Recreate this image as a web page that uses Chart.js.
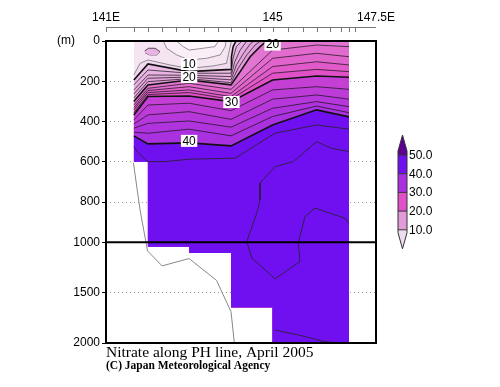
<!DOCTYPE html>
<html lang="en">
<head>
<meta charset="UTF-8" />
<title>Nitrate along PH line, April 2005</title>
<script src="https://cdn.jsdelivr.net/npm/chart.js"></script>
<style>
  html, body { margin: 0; padding: 0; background: #fff; }
  #wrap { width: 500px; height: 387px; }
</style>
</head>
<body>
<div id="wrap"><canvas id="section" width="500" height="387"></canvas></div>
<script>
// distance along the section in km (0 = 141E), depth in m
const lonLabelKm = [0, 401, 650];
const lonLabels = ["141E", "145", "147.5E"];
const lonTickKm = [0, 67, 100, 134, 168, 200, 235, 269, 301, 336, 371, 401, 438, 474, 507, 539, 565, 585, 600];
const depthTicks = [0, 200, 400, 600, 800, 1000, 1500, 2000];

// colour bar
const barLevels = [10, 20, 30, 40, 50];
const barColors = ["#f0dcf0", "#e39ad9", "#e050c8", "#a830e0", "#7010f0", "#600090"];

// lower limit of the observations (corners of the steps) and the sea floor
const dataBottom = [[67, 600], [101, 600], [101, 1045], [200, 1045], [200, 1105], [301, 1105],
  [301, 1645], [401, 1645], [401, 2000], [585, 2000]];
const seaFloor = [[66, 605], [82, 839], [100, 1085], [135, 1234], [200, 1161], [266, 1378], [301, 1689], [309, 2000]];
const surface = [[67, 0], [585, 0]];
const breakLine = [[0, 1000], [650, 1000]];

// nitrate isolines [km, depth]
const iso4 = [[67, 0], [170, 0], [186, 28], [200, 45], [234, 36], [262, 28], [271, 0], [585, 0]];
const iso6 = [[67, 0], [138, 0], [146, 36], [170, 69], [200, 94], [242, 86], [275, 69], [287, 28], [289, 0], [585, 0]];
const iso8 = [[67, 169], [82, 111], [101, 94], [154, 119], [200, 136], [258, 124], [290, 111], [297, 45], [302, 0], [585, 0]];
const iso10 = [[67, 194], [101, 114], [200, 152], [301, 141], [302, 78], [306, 28], [313, 0], [585, 0]];
const iso12 = [[67, 218], [101, 144], [200, 160], [301, 160], [306, 86], [314, 28], [327, 0], [585, 0]];
const iso14 = [[67, 243], [101, 169], [200, 170], [301, 177], [310, 103], [323, 45], [339, 0], [585, 0]];
const iso16 = [[67, 263], [101, 185], [200, 179], [301, 193], [314, 119], [331, 61], [347, 15], [356, 0], [585, 0]];
const iso18 = [[67, 283], [101, 202], [200, 187], [301, 207], [318, 136], [339, 69], [359, 20], [372, 0], [585, 0]];
const iso20 = [[67, 301], [101, 218], [200, 194], [301, 218], [323, 152], [347, 78], [371, 28], [387, 0], [585, 0]];
const iso22 = [[67, 318], [101, 235], [200, 210], [301, 240], [401, 45], [507, 20], [585, 28]];
const iso24 = [[67, 331], [101, 246], [200, 227], [301, 260], [401, 86], [507, 61], [585, 78]];
const iso26 = [[67, 342], [101, 256], [200, 243], [301, 276], [401, 127], [507, 103], [585, 119]];
const iso28 = [[67, 356], [101, 266], [200, 256], [301, 289], [401, 160], [507, 141], [585, 152]];
const iso30 = [[67, 367], [101, 276], [200, 273], [301, 301], [401, 194], [507, 174], [585, 180]];
const iso32 = [[67, 392], [101, 318], [200, 309], [301, 346], [401, 243], [507, 227], [585, 240]];
const iso34 = [[67, 412], [101, 367], [200, 351], [301, 389], [401, 289], [507, 268], [585, 289]];
const iso36 = [[67, 433], [101, 409], [200, 397], [301, 428], [401, 334], [507, 301], [585, 326]];
const iso38 = [[67, 453], [101, 458], [200, 438], [301, 471], [401, 375], [507, 323], [585, 356]];
const iso40 = [[67, 471], [101, 511], [200, 506], [301, 521], [401, 417], [507, 342], [585, 377]];
const iso42 = [[67, 525], [75, 549], [100, 599], [142, 599], [202, 587], [311, 582], [407, 458], [507, 417], [585, 438]];
const iso44 = [[585, 549], [543, 533], [507, 500], [451, 599], [407, 624], [371, 706], [371, 789], [363, 855], [339, 996],
  [351, 1157], [407, 1363], [467, 1191], [463, 1008], [479, 872], [503, 830], [575, 880], [585, 905]];
const iso46 = [[407, 1871], [463, 1920], [527, 1987], [567, 2000]];
// small patch of higher values near the surface
const blobTop = [[94, 48], [102, 36], [118, 36], [130, 53]];
const blobBottom = [[94, 48], [96, 61], [106, 69], [122, 69], [130, 53]];

// contour labels [value, km, depth]
const contourLabels = [[10, 200, 114], [20, 200, 179], [30, 302, 303], [40, 200, 496], [20, 401, 18]];

// depth axis is halved below 1000 m
const toAxis = d => d <= 1000 ? d : 1000 + (d - 1000) / 2;
const fromAxis = v => v <= 1000 ? v : 1000 + (v - 1000) * 2;
const pts = arr => arr.map(([x, d]) => ({ x: x, y: toAxis(d) }));

function mix(a, b, t) {
  const p = h => [1, 3, 5].map(i => parseInt(h.slice(i, i + 2), 16));
  const ca = p(a), cb = p(b);
  return "rgb(" + ca.map((v, i) => Math.round(v + (cb[i] - v) * t)).join(",") + ")";
}
const lensFill = { 0: "#fcf5fb", 4: "#f9eef8", 6: "#f5e5f3", 8: "#f1daee" };
function bandColor(level) {
  if (level < 10) return lensFill[level];
  if (level >= 40) return barColors[4];
  const i = Math.floor(level / 10), f = (level % 10) / 10;
  return mix(barColors[i - 1], barColors[i], 0.5 + f * 0.6);
}

const datasets = [];
datasets.push({ data: pts(dataBottom), borderColor: "rgba(0,0,0,0)", borderWidth: 0, fill: false });
const BOTTOM = 0;

const filled = [[0, surface], [4, iso4], [6, iso6], [8, iso8], [10, iso10], [12, iso12], [14, iso14], [16, iso16],
  [18, iso18], [20, iso20], [22, iso22], [24, iso24], [26, iso26], [28, iso28], [30, iso30], [32, iso32],
  [34, iso34], [36, iso36], [38, iso38], [40, iso40]];
filled.forEach(([lvl, line]) => {
  const thick = lvl > 0 && lvl % 10 === 0;
  datasets.push({
    data: pts(line),
    fill: BOTTOM,
    backgroundColor: bandColor(lvl),
    borderColor: lvl === 0 ? "rgba(0,0,0,0)" : (lvl < 10 ? "#666" : "#111"),
    borderWidth: thick ? 1.6 : 0.7
  });
});

datasets.push({ data: pts(blobBottom), fill: false, borderColor: "#111", borderWidth: 0.7 });
datasets.push({ data: pts(blobTop), fill: datasets.length - 1, backgroundColor: bandColor(12), borderColor: "#111", borderWidth: 0.7 });
[iso42, iso44, iso46].forEach(line => {
  datasets.push({ data: pts(line), fill: false, borderColor: "#222", borderWidth: 0.8 });
});
datasets.push({ data: pts(seaFloor), fill: false, borderColor: "#888", borderWidth: 1 });
datasets.push({ data: pts(breakLine), fill: false, borderColor: "#000", borderWidth: 2 });
// first in the list is painted first
datasets.forEach((d, i) => { d.order = datasets.length - i; });

const decor = {
  id: "decor",
  afterDraw(chart) {
    const { ctx, chartArea: a, scales: { x, y } } = chart;
    ctx.save();

    // contour labels
    ctx.font = "12px 'Liberation Sans', Arial, sans-serif";
    ctx.textAlign = "center";
    ctx.textBaseline = "middle";
    contourLabels.forEach(([v, km, d]) => {
      const px = x.getPixelForValue(km), py = y.getPixelForValue(toAxis(d));
      const w = ctx.measureText(String(v)).width + 3;
      ctx.fillStyle = "#fff";
      ctx.fillRect(px - w / 2, py - 6, w, 12);
      ctx.fillStyle = "#000";
      ctx.fillText(String(v), px, py + 0.5);
    });

    // frame
    ctx.strokeStyle = "#000";
    ctx.lineWidth = 2;
    ctx.strokeRect(a.left, a.top, a.right - a.left, a.bottom - a.top);

    // longitude axis above the frame
    const ay = a.top - 13.5;
    ctx.strokeStyle = "#777";
    ctx.lineWidth = 1;
    ctx.beginPath();
    ctx.moveTo(a.left, ay);
    ctx.lineTo(a.right, ay);
    lonTickKm.forEach(km => {
      const px = Math.round(x.getPixelForValue(km)) + 0.5;
      ctx.moveTo(px, ay);
      ctx.lineTo(px, ay + 4.5);
    });
    ctx.stroke();

    // (m)
    ctx.fillStyle = "#000";
    ctx.font = "12px 'Liberation Sans', Arial, sans-serif";
    ctx.textAlign = "center";
    ctx.fillText("(m)", 66, a.top);

    // colour bar
    const bx = 398, bw = 9, top = 155, step = 18.7;
    const yOf = l => top + (50 - l) / 10 * step;
    for (let i = 0; i < 4; i++) {
      ctx.fillStyle = barColors[4 - i];
      ctx.fillRect(bx, yOf(barLevels[4 - i]), bw, step);
    }
    ctx.fillStyle = barColors[5];
    ctx.beginPath();
    ctx.moveTo(bx, top); ctx.lineTo(bx, top - 4); ctx.lineTo(bx + bw / 2, top - 20);
    ctx.lineTo(bx + bw, top - 4); ctx.lineTo(bx + bw, top); ctx.closePath();
    ctx.fill();
    const bot = yOf(10);
    ctx.fillStyle = barColors[0];
    ctx.beginPath();
    ctx.moveTo(bx, bot); ctx.lineTo(bx, bot + 3); ctx.lineTo(bx + bw / 2, bot + 19);
    ctx.lineTo(bx + bw, bot + 3); ctx.lineTo(bx + bw, bot); ctx.closePath();
    ctx.fill();
    ctx.strokeStyle = "#333";
    ctx.lineWidth = 1;
    ctx.beginPath();
    ctx.moveTo(bx, top); ctx.lineTo(bx, top - 4); ctx.lineTo(bx + bw / 2, top - 20);
    ctx.lineTo(bx + bw, top - 4); ctx.lineTo(bx + bw, bot + 3); ctx.lineTo(bx + bw / 2, bot + 19);
    ctx.lineTo(bx, bot + 3); ctx.closePath();
    barLevels.forEach(l => { ctx.moveTo(bx, yOf(l)); ctx.lineTo(bx + bw, yOf(l)); });
    ctx.stroke();
    ctx.fillStyle = "#000";
    ctx.textAlign = "left";
    ctx.font = "12px 'Liberation Sans', Arial, sans-serif";
    barLevels.forEach(l => ctx.fillText(l.toFixed(1), bx + 11, yOf(l) + 0.5));

    // caption
    ctx.font = "15.5px 'Liberation Serif', serif";
    ctx.fillText("Nitrate along PH line, April 2005", a.left, a.bottom + 10);
    ctx.font = "bold 11.5px 'Liberation Serif', serif";
    ctx.fillText("(C) Japan Meteorological Agency", a.left, a.bottom + 23);
    ctx.restore();
  }
};

Chart.defaults.font.family = "'Liberation Sans', Arial, sans-serif";
Chart.defaults.color = "#000";

new Chart(document.getElementById("section"), {
  type: "line",
  data: { datasets: datasets },
  options: {
    animation: false,
    responsive: false,
    events: [],
    layout: { padding: { left: 0, top: 0, right: 124, bottom: 44 } },
    elements: { point: { radius: 0 }, line: { tension: 0 } },
    plugins: { legend: { display: false }, tooltip: { enabled: false } },
    scales: {
      x: {
        type: "linear", position: "top", min: 0, max: 650,
        afterBuildTicks: s => { s.ticks = lonLabelKm.map(v => ({ value: v })); },
        afterFit: s => { s.height = 41; },
        grid: { display: false, drawTicks: false },
        border: { display: false },
        ticks: {
          autoSkip: false, maxRotation: 0, padding: 16, font: { size: 12 },
          callback: v => { const i = lonLabelKm.indexOf(v); return i < 0 ? "" : lonLabels[i]; }
        }
      },
      y: {
        type: "linear", reverse: true, min: 0, max: 1500,
        afterBuildTicks: s => { s.ticks = depthTicks.map(d => ({ value: toAxis(d) })); },
        afterFit: s => { s.width = 106; },
        grid: {
          color: c => (c.tick && [200, 400, 600, 800, 1500].includes(fromAxis(c.tick.value))) ? "#999" : "rgba(0,0,0,0)",
          tickColor: "#000", tickLength: 4, tickWidth: 1, tickBorderDash: [], lineWidth: 1
        },
        border: { display: false, dash: [1, 3] },
        ticks: { autoSkip: false, padding: 2, font: { size: 12 }, callback: v => String(fromAxis(v)) }
      }
    }
  },
  plugins: [decor]
});
</script>
</body>
</html>
